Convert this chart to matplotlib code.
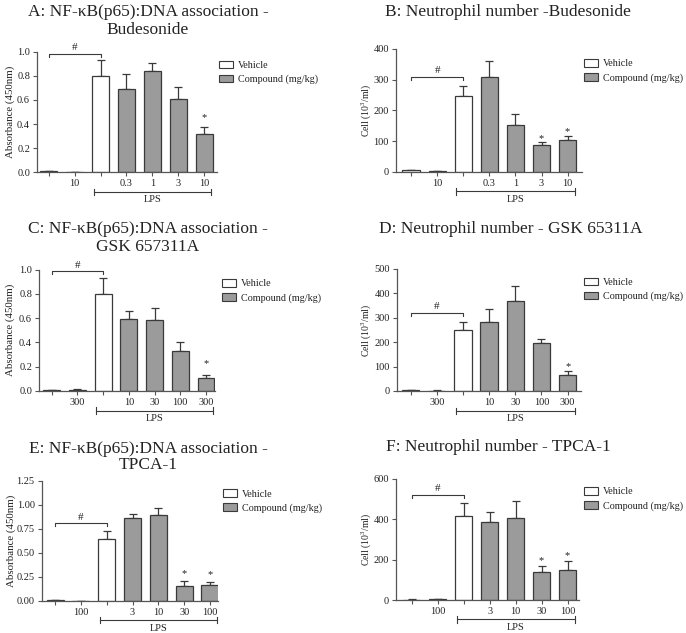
import numpy as np
import matplotlib
matplotlib.use('Agg')
import matplotlib.pyplot as plt
from matplotlib.patches import Patch

plt.rcParams['font.family'] = ['Liberation Serif', 'DejaVu Serif']
plt.rcParams['mathtext.fontset'] = 'custom'
plt.rcParams['mathtext.rm'] = 'Liberation Serif'
plt.rcParams['mathtext.default'] = 'rm'

# ---- data ----
budes_ticks = ['', '10', '', '0.3', '1', '3', '10']
gsk_ticks = ['', '300', '', '10', '30', '100', '300']
tpca_ticks = ['', '100', '', '3', '10', '30', '100']

a_mean = [0.010, 0.0, 0.800, 0.690, 0.838, 0.605, 0.320]
a_err = [0.003, 0.0, 0.134, 0.127, 0.071, 0.105, 0.053]
a_stars = [6]

b_mean = [4, 1, 248, 310, 151, 88, 102]
b_err = [2.5, 0.5, 30, 52, 38, 8, 16]
b_stars = [5, 6]

c_mean = [0.008, 0.008, 0.797, 0.591, 0.585, 0.327, 0.104]
c_err = [0.004, 0.007, 0.132, 0.071, 0.102, 0.080, 0.025]
c_stars = [6]

d_mean = [4, 2, 249, 281, 370, 195, 67]
d_err = [2, 0.5, 32, 54, 62, 17, 16]
d_stars = [6]

e_mean = [0.012, 0.003, 0.649, 0.868, 0.899, 0.153, 0.163]
e_err = [0.003, 0.0, 0.080, 0.035, 0.073, 0.055, 0.031]
e_stars = [5, 6]

f_mean = [2, 4, 418, 387, 408, 140, 147]
f_err = [0.5, 0.5, 65, 49, 85, 30, 45]
f_stars = [5, 6]

hash_y = [0.985, 310, 0.986, 321, 0.8125, 522]

titles = ['A: NF-\u03baB(p65):DNA association -\nBudesonide',
          'B: Neutrophil number -Budesonide',
          'C: NF-\u03baB(p65):DNA association -\nGSK 657311A',
          'D: Neutrophil number - GSK 65311A',
          'E: NF-\u03baB(p65):DNA association -\nTPCA-1',
          'F: Neutrophil number - TPCA-1']
abs_label = 'Absorbance (450nm)'
cell_label = 'Cell (10$^{3}$/ml)'

# ---- layout (pixels in a 686x633 canvas) ----
W, H = 686, 633
GRAY = '#9b9b9b'
EDGE = '#3a3a3a'
TXT = '#222222'
colors = ['white', GRAY, 'white', GRAY, GRAY, GRAY, GRAY]

panels = [
    # mean, err, stars, ticks, ylabel, yticks, fmt, rect(l,t,r,b), xlim, ylab right x, legend(x,y), title(x,y), star gap px
    (a_mean, a_err, a_stars, budes_ticks, abs_label, np.arange(0, 1.01, 0.2), '%.1f',
     (37, 51.7, 217, 172.3), (-0.46, 6.5), 15, (219, 66.7), (148, 21), 10),
    (b_mean, b_err, b_stars, budes_ticks, cell_label, np.arange(0, 401, 100), '%d',
     (395.7, 49, 581.7, 171.7), (-0.59, 6.54), 373, (584, 65), (508, 12), 4.5),
    (c_mean, c_err, c_stars, gsk_ticks, abs_label, np.arange(0, 1.01, 0.2), '%.1f',
     (39, 269.7, 215, 391), (-0.49, 6.35), 15, (221.7, 285), (148, 238), 12),
    (d_mean, d_err, d_stars, gsk_ticks, cell_label, np.arange(0, 501, 100), '%d',
     (396.7, 269, 581, 391), (-0.53, 6.51), 373, (584, 283.7), (511, 229), 5),
    (e_mean, e_err, e_stars, tpca_ticks, abs_label, np.arange(0, 1.26, 0.25), '%.2f',
     (41.7, 481, 218, 601), (-0.52, 6.31), 16, (222.7, 495.3), (148, 457), 8.3),
    (f_mean, f_err, f_stars, tpca_ticks, cell_label, np.arange(0, 601, 200), '%d',
     (395.7, 479, 579, 600), (-0.62, 6.44), 373, (584, 493), (498, 447), 6),
]

fig = plt.figure(figsize=(W / 100, H / 100), dpi=100)

for k, (mean, err, stars, ticks, ylab, yticks, fmt, rect, xlim, ylab_x, leg, tpos, sgap) in enumerate(panels):
    l, t, r, b = rect
    ax = fig.add_axes([l / W, 1 - b / H, (r - l) / W, (b - t) / H])
    x = np.arange(len(mean))
    ax.bar(x, mean, width=0.66, color=colors, edgecolor=EDGE, linewidth=0.9, zorder=2)
    ax.errorbar(x, mean, yerr=[np.zeros(len(err)), err], fmt='none', ecolor=EDGE,
                elinewidth=0.9, capsize=3, capthick=0.9, zorder=1)
    ax.set_xlim(*xlim)
    ax.set_ylim(0, yticks[-1])
    ax.set_yticks(yticks)
    ax.yaxis.set_major_formatter(plt.FormatStrFormatter(fmt))
    ax.set_xticks(x)
    ax.set_xticklabels(ticks)
    for s in ['top', 'right']:
        ax.spines[s].set_visible(False)
    for s in ['left', 'bottom']:
        ax.spines[s].set_color('#555555')
        ax.spines[s].set_linewidth(0.9)
    ax.tick_params(direction='out', length=3, width=0.8, color='#555555',
                   labelsize=7.5, labelcolor=TXT, pad=2)
    ax.set_ylabel(ylab, fontsize=7.8 if ylab == abs_label else 7, color=TXT)
    ax.yaxis.set_label_coords((ylab_x - l) / (r - l), 0.5)

    top = yticks[-1]
    # significance stars
    for i in stars:
        ax.annotate('*', (i, mean[i] + err[i]), xytext=(0, (sgap - 3) * 0.72),
                    textcoords='offset points', ha='center', va='baseline',
                    fontsize=7.5, color=TXT)
    # '#' bracket between sham and LPS vehicle
    hy = hash_y[k]
    d = 0.025 * top
    ax.plot([0, 0, 2, 2], [hy - d, hy, hy, hy - d], color=EDGE, lw=0.8, clip_on=False)
    ax.annotate('#', (1, hy), xytext=(0, 2.5), textcoords='offset points',
                ha='center', va='baseline', fontsize=8, color=TXT, annotation_clip=False)
    # LPS bracket under the axis
    tr = ax.get_xaxis_transform()
    ly = -0.161
    ax.plot([1.73, 6.27], [ly, ly], color=EDGE, lw=0.8, transform=tr, clip_on=False)
    for xe in [1.73, 6.27]:
        ax.plot([xe, xe], [ly - 0.025, ly + 0.025], color=EDGE, lw=0.8,
                transform=tr, clip_on=False)
    ax.text(4, -0.228, 'LPS', transform=tr, ha='center', va='center', fontsize=7.5, color=TXT)

    # legend
    handles = [Patch(facecolor='white', edgecolor=EDGE, linewidth=0.8, label='Vehicle'),
               Patch(facecolor=GRAY, edgecolor=EDGE, linewidth=0.8, label='Compound (mg/kg)')]
    fig.legend(handles=handles, loc='upper left',
               bbox_to_anchor=(leg[0] / W, 1 - (leg[1] - 6) / H),
               frameon=False, fontsize=7.3, borderpad=0, borderaxespad=0,
               handlelength=1.4, handleheight=0.8, handletextpad=0.5,
               labelspacing=0.45, labelcolor=TXT)

    fig.text(tpos[0] / W, 1 - tpos[1] / H, titles[k], ha='center', va='center',
             fontsize=12.5, color=TXT, linespacing=1.15 if k != 4 else 1.0)

fig.savefig('out.png', dpi=100, facecolor='white')
